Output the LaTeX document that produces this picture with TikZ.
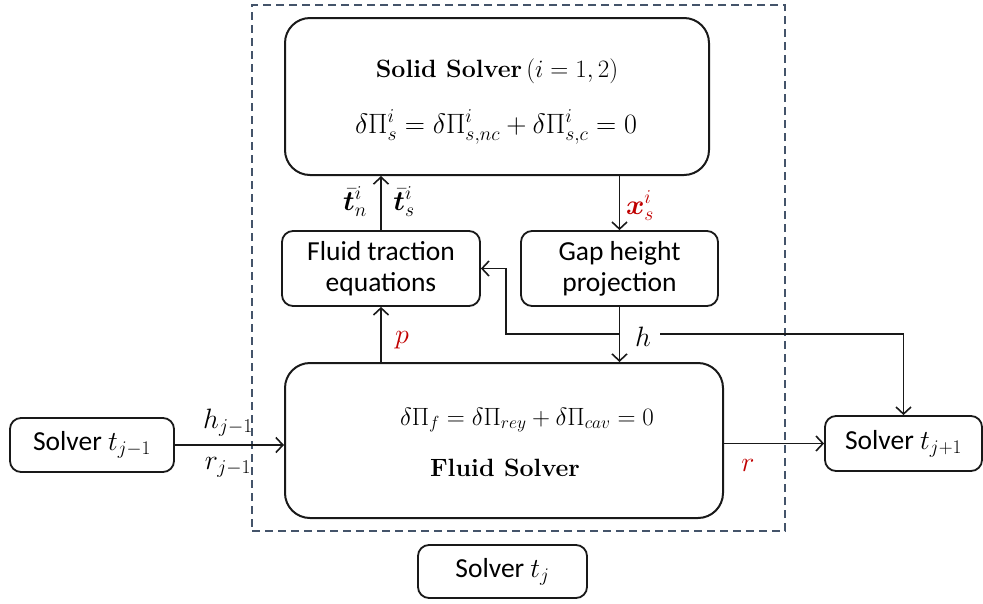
\RequirePackage{fix-cm}
\documentclass[tikz,border=0pt]{standalone}
\usepackage{amsmath}
\usepackage{bm}
\usepackage[no-math]{fontspec}
\setsansfont{Carlito}
\usetikzlibrary{arrows.meta,calc}
\definecolor{dashblue}{HTML}{44546A}
\definecolor{myred}{HTML}{C00000}
\begin{document}
\begin{tikzpicture}[x=1pt,y=-1pt,
  box/.style={draw=black!90,line width=1.8pt,rounded corners=11pt,inner sep=0pt},
  bigbox/.style={draw=black!90,line width=2pt,rounded corners=25pt,inner sep=0pt},
  arr/.style={draw=black!90,line width=1.7pt,-{Straight Barb[length=7pt,width=15pt,line width=1.6pt]}},
  txt/.style={font=\fontsize{27.5}{31}\selectfont\sffamily,align=center,inner sep=0pt},
  mtxt/.style={font=\fontsize{25}{30}\selectfont,inner sep=0pt},
  ltxt/.style={font=\fontsize{28}{30}\selectfont,inner sep=0pt},
  red/.style={text=myred}]
\useasboundingbox (0,0) rectangle (983,603);
% dashed frame
\node[draw=dashblue,line width=1.8pt,dash pattern=on 8pt off 5pt,minimum width=533pt,minimum height=526pt,inner sep=0pt] (frame) at (518.5,268) {};
% boxes
\node[bigbox,minimum width=424pt,minimum height=157pt] (solid) at (497,96.5) {};
\node[mtxt] (solidtitle) at (497,71) {\bfseries Solid Solver\,$(i=1,2)$};
\node[font=\fontsize{28}{30}\selectfont,inner sep=0pt] (solideq) at (496,127) {$\delta\Pi_s^i=\delta\Pi_{s,nc}^i+\delta\Pi_{s,c}^i=0$};
\node[box,minimum width=198pt,minimum height=75pt] (ft) at (381,268.5) {};
\node[txt] (fttext) at (381,268.5) {Fluid traction\\equations};
\node[box,minimum width=197pt,minimum height=75pt] (gap) at (619.5,268.5) {};
\node[txt] (gaptext) at (619.5,268.5) {Gap height\\projection};
\node[bigbox,minimum width=438pt,minimum height=155pt] (fluid) at (504,440.5) {};
\node[mtxt] (fluideq) at (527,420) {$\delta\Pi_f=\delta\Pi_{rey}+\delta\Pi_{cav}=0$};
\node[mtxt] (fluidtitle) at (505,468) {\bfseries Fluid Solver};
\node[box,minimum width=164pt,minimum height=54pt] (tm1) at (92,445) {};
\node[txt] (tm1text) at (92,445) {Solver $t_{j-1}$};
\node[box,minimum width=157pt,minimum height=55pt] (tp1) at (903.5,443.5) {};
\node[txt] (tp1text) at (903.5,443.5) {Solver $t_{j+1}$};
\node[box,minimum width=169pt,minimum height=53pt] (tj) at (502.5,571.5) {};
\node[txt] (tjtext) at (502.5,571.5) {Solver $t_j$};
% connectors
\draw[arr] (ft.north) -- (ft.north |- solid.south);
\draw[arr] (solid.south -| gap.north) -- (gap.north);
\draw[arr] (ft.south |- fluid.north) -- (ft.south);
\draw[arr] (gap.south) -- (gap.south |- fluid.north);
\coordinate (hj) at (619.5,334);
\coordinate (bk) at (506,334);
\draw[arr] (hj) -- (bk) |- (ft.east);
\coordinate (hs) at (660,334);
\draw[arr] (hs) -| (tp1.north);
\draw[arr] (tm1.east) -- (tm1.east -| fluid.west);
\draw[arr] (tp1.west -| fluid.east) -- (tp1.west);
% labels
\node[ltxt] (ltn) at (355,202) {$\bar{\bm{t}}_n^i$};
\node[ltxt] (lts) at (404,202) {$\bar{\bm{t}}_s^i$};
\node[ltxt,red] (lxs) at (640,206) {$\bm{x}_s^i$};
\node[ltxt,red] (lp) at (402,340) {$p$};
\node[ltxt] (lh) at (643,337) {$h$};
\node[ltxt] (lhj) at (228,423) {$h_{j-1}$};
\node[ltxt] (lrj) at (228,467) {$r_{j-1}$};
\node[ltxt,red] (lr) at (748,465) {$r$};
\end{tikzpicture}
\end{document}
